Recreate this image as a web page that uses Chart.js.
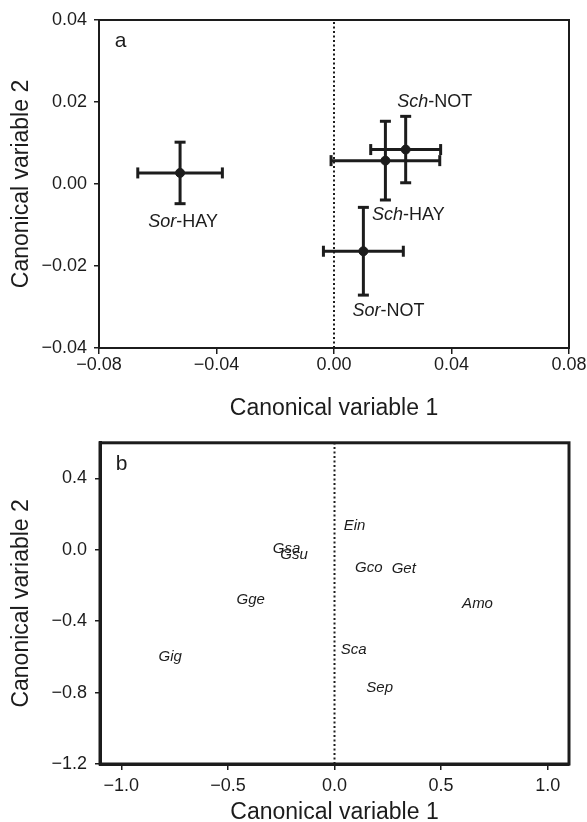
<!DOCTYPE html>
<html>
<head>
<meta charset="utf-8">
<script src="https://cdn.jsdelivr.net/npm/chart.js@4.4.0/dist/chart.umd.min.js"></script>
<style>
html, body { margin: 0; padding: 0; background: #fff; overflow: hidden; }
#wrap { position: relative; width: 587px; height: 822px; }
canvas { position: absolute; left: 0; }
</style>
</head>
<body>
<div id="wrap">
  <canvas id="graficoA" width="587" height="424" style="top:0px"></canvas>
  <canvas id="graficoB" width="587" height="404" style="top:424px"></canvas>
</div>
<script>
// panel a: group centroids (+/- error)
const grupos = ['Sor-HAY', 'Sch-NOT', 'Sch-HAY', 'Sor-NOT'];
const cv1 = [-0.0524, 0.0244, 0.0175, 0.0100];
const cv2 = [0.0027, 0.0084, 0.0057, -0.0164];
const errCv1 = [0.0144, 0.0119, 0.0185, 0.0136];
const errCv2 = [0.0075, 0.0081, 0.0096, 0.0107];

// panel b: species scores
const especies = ['Ein', 'Gco', 'Get', 'Amo', 'Sca', 'Sep', 'Gge', 'Gig', 'Gsa', 'Gsu'];
const espCv1 = [0.094, 0.161, 0.325, 0.671, 0.090, 0.212, -0.393, -0.771, -0.225, -0.190];
const espCv2 = [0.133, -0.099, -0.108, -0.305, -0.559, -0.775, -0.282, -0.597, 0.005, -0.030];

// axis ranges and ticks
const rangoAx = [-0.08, 0.08];
const rangoAy = [-0.04, 0.04];
const ticksAx = [-0.08, -0.04, 0, 0.04, 0.08];
const ticksAy = [-0.04, -0.02, 0, 0.02, 0.04];
const rangoBx = [-1.1, 1.1];
const rangoBy = [-1.2, 0.6];
const ticksBx = [-1.0, -0.5, 0, 0.5, 1.0];
const ticksBy = [-1.2, -0.8, -0.4, 0, 0.4];

const fuente = "'Liberation Sans', Arial, Helvetica, sans-serif";
const negro = '#1c1c1c';

// label offsets (px) from each centroid in panel a
const offsetEtiquetas = [[3, 49], [29, -48], [23, 54], [25, 60]];

function fmt(dec) {
  return v => (v < 0 ? '\u2212' : '') + Math.abs(v).toFixed(dec);
}

function escala(rango, ticks, dec, eje, o) {
  const s = {
    type: 'linear',
    min: rango[0],
    max: rango[1],
    afterBuildTicks: sc => { sc.ticks = ticks.map(v => ({ value: v })); },
    grid: { drawOnChartArea: false, drawTicks: true, tickLength: o.tick, color: negro, lineWidth: 1.5 },
    border: { display: true, color: negro, width: o.borde },
    ticks: {
      color: negro,
      font: { family: fuente, size: 18 },
      padding: o.pad,
      maxRotation: 0,
      autoSkip: false,
      callback: fmt(dec)
    },
    title: {
      display: true,
      text: eje === 'x' ? 'Canonical variable 1' : 'Canonical variable 2',
      color: negro,
      font: { family: fuente, size: 23 },
      padding: o.titlePad
    }
  };
  if (eje === 'x') s.afterFit = sc => { sc.height = o.tam; };
  else s.afterFit = sc => { sc.width = o.tam; };
  return s;
}

function marco(letra, grosor) {
  return {
    id: 'marco' + letra,
    afterDatasetsDraw(chart) {
      const { ctx, chartArea: a } = chart;
      ctx.save();
      ctx.strokeStyle = negro;
      ctx.lineWidth = grosor;
      ctx.strokeRect(a.left, a.top, a.right - a.left, a.bottom - a.top);
      ctx.fillStyle = negro;
      ctx.font = `21px ${fuente}`;
      ctx.textAlign = 'center';
      ctx.textBaseline = 'middle';
      ctx.fillText(letra, a.left + 21.5, a.top + 21);
      ctx.restore();
    }
  };
}

const etiquetasA = {
  id: 'etiquetasA',
  afterDatasetsDraw(chart) {
    const ctx = chart.ctx;
    const meta = chart.getDatasetMeta(chart.data.datasets.length - 1);
    ctx.save();
    ctx.fillStyle = negro;
    ctx.textBaseline = 'middle';
    ctx.textAlign = 'left';
    meta.data.forEach((pt, i) => {
      const partes = grupos[i].split('-');
      const pre = partes[0], suf = '-' + partes[1];
      ctx.font = `italic 18px ${fuente}`;
      const w1 = ctx.measureText(pre).width;
      ctx.font = `18px ${fuente}`;
      const w2 = ctx.measureText(suf).width;
      const x0 = pt.x + offsetEtiquetas[i][0] - (w1 + w2) / 2;
      const y = pt.y + offsetEtiquetas[i][1];
      ctx.font = `italic 18px ${fuente}`;
      ctx.fillText(pre, x0, y);
      ctx.font = `18px ${fuente}`;
      ctx.fillText(suf, x0 + w1, y);
    });
    ctx.restore();
  }
};

const etiquetasB = {
  id: 'etiquetasB',
  afterDatasetsDraw(chart) {
    const ctx = chart.ctx;
    const meta = chart.getDatasetMeta(chart.data.datasets.length - 1);
    ctx.save();
    ctx.fillStyle = negro;
    ctx.font = `italic 15px ${fuente}`;
    ctx.textAlign = 'center';
    ctx.textBaseline = 'middle';
    meta.data.forEach((pt, i) => ctx.fillText(especies[i], pt.x, pt.y));
    ctx.restore();
  }
};

function lineaCero(rangoY) {
  return {
    type: 'line',
    data: [{ x: 0, y: rangoY[0] }, { x: 0, y: rangoY[1] }],
    borderColor: negro,
    borderWidth: 2,
    borderDash: [2, 2.5],
    pointRadius: 0,
    fill: false
  };
}

function barra(datos, rot) {
  return {
    type: 'line',
    data: datos,
    borderColor: negro,
    borderWidth: 3,
    pointStyle: 'line',
    pointRotation: rot,
    pointRadius: 5.5,
    pointBorderWidth: 3,
    pointBorderColor: negro,
    fill: false,
    tension: 0
  };
}

const datasetsA = [lineaCero(rangoAy)];
grupos.forEach((g, i) => {
  datasetsA.push(barra([{ x: cv1[i] - errCv1[i], y: cv2[i] }, { x: cv1[i] + errCv1[i], y: cv2[i] }], 90));
  datasetsA.push(barra([{ x: cv1[i], y: cv2[i] - errCv2[i] }, { x: cv1[i], y: cv2[i] + errCv2[i] }], 0));
});
datasetsA.push({
  type: 'scatter',
  data: cv1.map((v, i) => ({ x: v, y: cv2[i] })),
  pointRadius: 4.5,
  pointBackgroundColor: negro,
  pointBorderColor: negro,
  pointBorderWidth: 1
});

new Chart(document.getElementById('graficoA').getContext('2d'), {
  type: 'scatter',
  data: { datasets: datasetsA },
  options: {
    responsive: false,
    animation: false,
    events: [],
    layout: { padding: { top: 20, right: 18, left: 0, bottom: 0 } },
    plugins: { legend: { display: false }, tooltip: { enabled: false } },
    scales: {
      x: escala(rangoAx, ticksAx, 2, 'x', { tam: 76, tick: 6, pad: 0, borde: 2, titlePad: { top: 0, bottom: 2 } }),
      y: escala(rangoAy, ticksAy, 2, 'y', { tam: 99, tick: 5, pad: 7, borde: 2, titlePad: { top: 8, bottom: 0 } })
    }
  },
  plugins: [marco('a', 2), etiquetasA]
});

new Chart(document.getElementById('graficoB').getContext('2d'), {
  type: 'scatter',
  data: {
    datasets: [
      lineaCero(rangoBy),
      {
        type: 'scatter',
        data: espCv1.map((v, i) => ({ x: v, y: espCv2[i] })),
        pointRadius: 0
      }
    ]
  },
  options: {
    responsive: false,
    animation: false,
    events: [],
    layout: { padding: { top: 12, right: 18, left: 0, bottom: 0 } },
    plugins: { legend: { display: false }, tooltip: { enabled: false } },
    scales: {
      x: escala(rangoBx, ticksBx, 1, 'x', { tam: 64, tick: 6, pad: 5, borde: 3, titlePad: { top: 0, bottom: 2 } }),
      y: escala(rangoBy, ticksBy, 1, 'y', { tam: 100, tick: 5, pad: 8, borde: 3, titlePad: { top: 8, bottom: 0 } })
    }
  },
  plugins: [marco('b', 3), etiquetasB]
});
</script>
</body>
</html>
